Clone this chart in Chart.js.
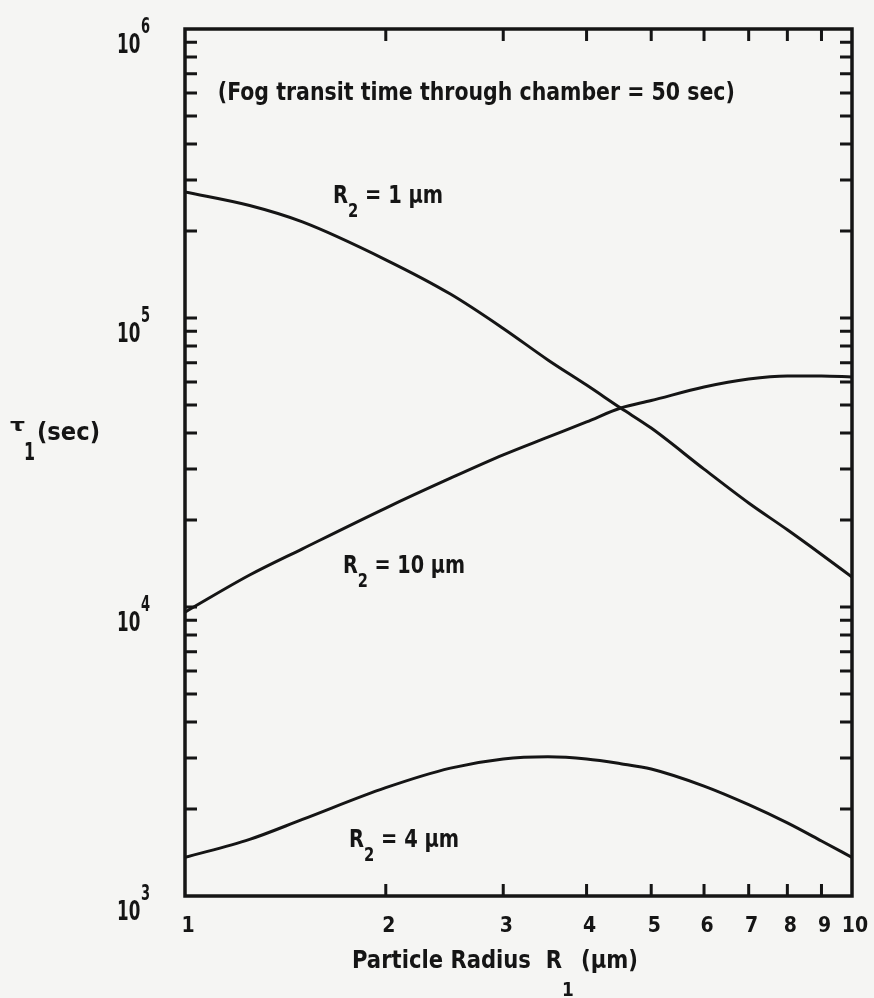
<!DOCTYPE html>
<html>
<head>
<meta charset="utf-8">
<title>Relaxation time vs particle radius</title>
<script src="https://cdn.jsdelivr.net/npm/chart.js@4.4.1/dist/chart.umd.min.js"></script>
<style>
  html, body { margin: 0; padding: 0; background: #f5f5f3; }
  canvas { display: block; }
</style>
</head>
<body>
<canvas id="c" width="874" height="998"></canvas>
<script>
// Particle radius R1 (µm) at which each curve is sampled
const radius = [1, 1.25, 1.5, 2, 2.5, 3, 3.5, 4, 4.5, 5, 6, 7, 8, 9, 10];

// tau1 (sec) for each companion radius R2
const tauR2_1  = [2.73e5, 2.45e5, 2.15e5, 1.59e5, 1.21e5, 9.2e4, 7.16e4, 5.86e4, 4.88e4, 4.16e4, 3.0e4, 2.29e4, 1.85e4, 1.52e4, 1.27e4];
const tauR2_10 = [9.6e3, 1.29e4, 1.59e4, 2.2e4, 2.79e4, 3.36e4, 3.87e4, 4.37e4, 4.88e4, 5.18e4, 5.77e4, 6.15e4, 6.3e4, 6.3e4, 6.25e4];
const tauR2_4  = [1.36e3, 1.57e3, 1.84e3, 2.37e3, 2.77e3, 2.98e3, 3.03e3, 2.98e3, 2.87e3, 2.75e3, 2.40e3, 2.07e3, 1.79e3, 1.55e3, 1.36e3];

// axis ticks
const xTickValues = [1, 2, 3, 4, 5, 6, 7, 8, 9, 10];
const xTickLabels = ['1', '2', '3', '4', '5', '6', '7', '8', '9', '10'];
const yDecadeExponents = [3, 4, 5, 6];
const yMantissas = [1, 2, 3, 4, 5, 6, 7, 8, 9];

const FONT = "'DejaVu Sans Condensed', 'Liberation Sans Narrow', 'Liberation Sans', sans-serif";
const INK = '#151515';

function toPoints(xs, ys) {
  return xs.map((x, i) => ({ x: x, y: ys[i] }));
}

// Draws a run of text pieces (with sub/superscripts) from (x, y) on the baseline,
// squeezed horizontally to the requested width when one is given.
function drawParts(ctx, parts, x, y, targetW, align) {
  let natural = 0;
  parts.forEach(p => {
    ctx.font = 'bold ' + p.size + 'px ' + FONT;
    p.w = ctx.measureText(p.t).width;
    natural += p.w + (p.gap || 0);
  });
  const sx = targetW ? targetW / natural : 1;
  const total = natural * sx;
  let startX = x;
  if (align === 'center') startX = x - total / 2;
  if (align === 'right') startX = x - total;
  ctx.save();
  ctx.translate(startX, y);
  ctx.scale(sx, 1);
  ctx.fillStyle = INK;
  ctx.textAlign = 'left';
  ctx.textBaseline = 'alphabetic';
  let cx = 0;
  parts.forEach(p => {
    cx += p.gap || 0;
    ctx.font = 'bold ' + p.size + 'px ' + FONT;
    ctx.fillText(p.t, cx, p.dy || 0);
    cx += p.w;
  });
  ctx.restore();
}

const framePlugin = {
  id: 'frame',
  beforeDraw(chart) {
    const ctx = chart.ctx;
    ctx.save();
    ctx.fillStyle = '#f5f5f3';
    ctx.fillRect(0, 0, chart.width, chart.height);
    ctx.restore();
  },
  afterDatasetsDraw(chart) {
    const ctx = chart.ctx;
    const a = chart.chartArea;
    const xs = chart.scales.x;
    const ys = chart.scales.y;
    const tickLen = 12;

    ctx.save();
    ctx.strokeStyle = INK;
    ctx.lineWidth = 3;
    ctx.lineCap = 'butt';

    // minor and major ticks, pointing into the plot on all four sides
    ctx.beginPath();
    xTickValues.forEach(v => {
      if (v === 1 || v === 10) return;
      const px = xs.getPixelForValue(v);
      ctx.moveTo(px, a.bottom); ctx.lineTo(px, a.bottom - tickLen);
      ctx.moveTo(px, a.top); ctx.lineTo(px, a.top + tickLen);
    });
    yDecadeExponents.forEach(e => {
      if (e === yDecadeExponents[yDecadeExponents.length - 1]) return;
      yMantissas.forEach(m => {
        const v = m * Math.pow(10, e);
        if (v <= ys.min || v >= ys.max) return;
        const py = ys.getPixelForValue(v);
        ctx.moveTo(a.left, py); ctx.lineTo(a.left + tickLen, py);
        ctx.moveTo(a.right, py); ctx.lineTo(a.right - tickLen, py);
      });
    });
    ctx.stroke();

    // plot frame
    ctx.lineWidth = 3.5;
    ctx.strokeRect(a.left, a.top, a.right - a.left, a.bottom - a.top);
    ctx.restore();

    // x tick labels
    xTickValues.forEach((v, i) => {
      const px = xs.getPixelForValue(v);
      drawParts(ctx, [{ t: xTickLabels[i], size: 21 }], px + 3, a.bottom + 36, null, 'center');
    });

    // y tick labels: 10 with a raised exponent
    yDecadeExponents.forEach(e => {
      const py = ys.getPixelForValue(Math.pow(10, e));
      drawParts(ctx, [
        { t: '10', size: 27 },
        { t: String(e), size: 21, dy: -20, gap: 1 }
      ], a.left - 68, py + 24, 33, 'left');
    });

    // annotations placed in data coordinates
    const at = (xv, yv) => [xs.getPixelForValue(xv), ys.getPixelForValue(yv)];

    let p = at(1.12, 5.68e5);
    drawParts(ctx, [{ t: '(Fog transit time through chamber = 50 sec)', size: 25 }], p[0], p[1], 517, 'left');

    p = at(1.667, 2.5e5);
    drawParts(ctx, [
      { t: 'R', size: 25 }, { t: '2', size: 19, dy: 14 }, { t: ' = 1 µm', size: 25 }
    ], p[0], p[1], 110, 'left');

    p = at(1.725, 1.31e4);
    drawParts(ctx, [
      { t: 'R', size: 25 }, { t: '2', size: 19, dy: 14 }, { t: ' = 10 µm', size: 25 }
    ], p[0], p[1], 122, 'left');

    p = at(1.762, 1.48e3);
    drawParts(ctx, [
      { t: 'R', size: 25 }, { t: '2', size: 19, dy: 14 }, { t: ' = 4 µm', size: 25 }
    ], p[0], p[1], 110, 'left');

    // axis titles
    drawParts(ctx, [
      { t: 'Particle Radius  R', size: 25 },
      { t: '1', size: 20, dy: 28 },
      { t: ' (µm)', size: 25 }
    ], 352, a.bottom + 72, 286, 'left');

    drawParts(ctx, [{ t: 'τ', size: 17 }], 10, a.top + 402, 15, 'left');
    drawParts(ctx, [{ t: '1', size: 25 }], 24, a.top + 431, 11, 'left');
    drawParts(ctx, [{ t: '(sec)', size: 24 }], 37, a.top + 411, 63, 'left');
  }
};

const lineStyle = {
  borderColor: INK,
  borderWidth: 3,
  pointRadius: 0,
  fill: false,
  cubicInterpolationMode: 'monotone'
};

new Chart(document.getElementById('c'), {
  type: 'line',
  data: {
    datasets: [
      Object.assign({ label: 'R2 = 1 µm', data: toPoints(radius, tauR2_1) }, lineStyle),
      Object.assign({ label: 'R2 = 10 µm', data: toPoints(radius, tauR2_10) }, lineStyle),
      Object.assign({ label: 'R2 = 4 µm', data: toPoints(radius, tauR2_4) }, lineStyle)
    ]
  },
  options: {
    responsive: false,
    animation: false,
    devicePixelRatio: 1,
    layout: { padding: { left: 185, right: 22, top: 29, bottom: 102 } },
    plugins: { legend: { display: false }, tooltip: { enabled: false } },
    scales: {
      x: { type: 'logarithmic', min: 1, max: 10, display: false },
      y: { type: 'logarithmic', min: 1e3, max: 1e6, display: false }
    }
  },
  plugins: [framePlugin]
});
</script>
</body>
</html>
